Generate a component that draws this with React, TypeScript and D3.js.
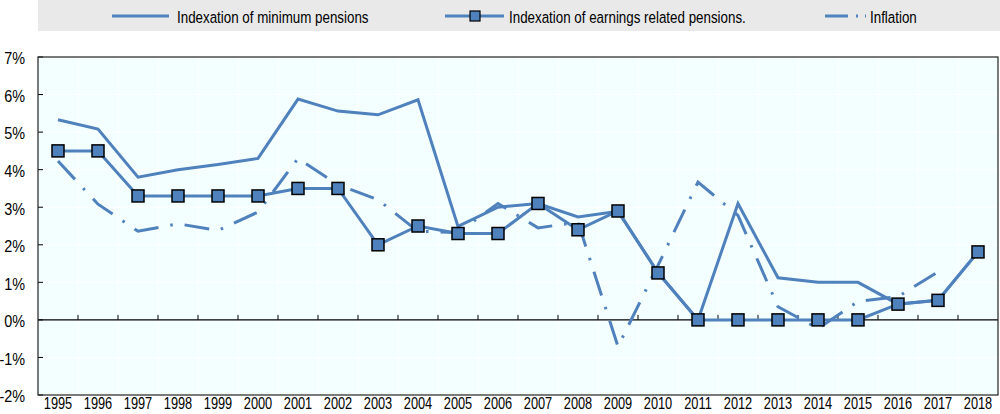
import React from "react";
import * as d3 from "d3";

const years = [1995,1996,1997,1998,1999,2000,2001,2002,2003,2004,2005,2006,2007,2008,2009,2010,2011,2012,2013,2014,2015,2016,2017,2018];
const minimumPensions = [5.33,5.08,3.8,4.0,4.14,4.3,5.88,5.56,5.46,5.86,2.49,3.0,3.1,2.74,2.89,1.26,0,3.1,1.12,1.0,1.0,0.42,0.52,1.81];
const earningsPensions = [4.5,4.5,3.3,3.3,3.3,3.3,3.5,3.5,2.0,2.5,2.3,2.3,3.1,2.4,2.9,1.25,0,0,0,0,0,0.42,0.52,1.81];
const inflation: (number|null)[] = [4.23,3.08,2.36,2.56,2.38,2.87,4.3,3.6,3.2,2.36,2.33,3.1,2.45,2.6,-0.71,1.45,3.67,2.78,0.35,-0.23,0.49,0.62,1.28,null];
const yTicks = [-2,-1,0,1,2,3,4,5,6,7];

const W = 1000, H = 414;
const L = 38, R = 998, T = 57, B = 395;
const BLUE = "#4F81BD";
const FONT = "'Liberation Sans', Arial, sans-serif";

function NText({ x, y, anchor = "start", size = 15, sx = 0.82, children }: { x: number; y: number; anchor?: string; size?: number; sx?: number; children: React.ReactNode }) {
  return (
    <text transform={`translate(${x},${y}) scale(${sx},1)`} textAnchor={anchor as any} dominantBaseline="central" fontFamily={FONT} fontSize={size} fill="#000">
      {children}
    </text>
  );
}

export default function App() {
  const x = d3.scaleBand<number>().domain(years).range([L, R]);
  const cx = (yr: number) => (x(yr) as number) + x.bandwidth() / 2;
  const y = d3.scaleLinear().domain([-2, 7]).range([B, T]);

  const lineMin = d3.line<number>().x((d, i) => cx(years[i])).y(d => y(d));
  const lineInf = d3.line<number|null>().defined(d => d !== null).x((d, i) => cx(years[i])).y(d => y(d as number));

  return (
    <svg width={W} height={H} style={{ position: "absolute", left: 0, top: 0 }}>
      <rect x={0} y={0} width={W} height={H} fill="#fff" />
      {/* legend */}
      <rect x={38} y={0} width={962} height={31} fill="#e9e9e9" />
      <line x1={112} x2={169} y1={16} y2={16} stroke={BLUE} strokeWidth={3} />
      <NText x={177} y={17} size={16.5} sx={0.81}>Indexation of minimum pensions</NText>
      <line x1={445} x2={504} y1={16} y2={16} stroke={BLUE} strokeWidth={3} />
      <rect x={470} y={11} width={10} height={10} fill={BLUE} stroke="#000" strokeWidth={1.2} />
      <NText x={509} y={17} size={16.5} sx={0.81}>Indexation of earnings related pensions.</NText>
      <line x1={825} x2={866} y1={16} y2={16} stroke={BLUE} strokeWidth={3} strokeDasharray="23,8,2,7,2,100" />
      <NText x={870} y={17} size={16.5} sx={0.81}>Inflation</NText>
      {/* plot bg */}
      <rect x={L} y={T} width={R - L} height={B - T} fill="#f3feff" />
      {yTicks.map(t => (
        <line key={"gy" + t} x1={L} x2={R} y1={y(t)} y2={y(t)} stroke="#fff" strokeWidth={1} />
      ))}
      {years.slice(1).map(yr => (
        <line key={"gx" + yr} x1={x(yr)} x2={x(yr)} y1={T} y2={B} stroke="#fff" strokeWidth={1} />
      ))}
      {/* zero line & ticks */}
      <line x1={L} x2={R} y1={y(0)} y2={y(0)} stroke="#000" strokeWidth={1.2} />
      {years.slice(1).map(yr => (
        <line key={"tx" + yr} x1={x(yr)} x2={x(yr)} y1={y(0)} y2={y(0) - 5} stroke="#000" strokeWidth={1} />
      ))}
      {yTicks.map(t => (
        <line key={"ty" + t} x1={L} x2={L + 5} y1={y(t)} y2={y(t)} stroke="#000" strokeWidth={1} />
      ))}
      <rect x={L} y={T} width={R - L} height={B - T} fill="none" stroke="#222" strokeWidth={1.2} />
      {/* series */}
      <path d={lineInf(inflation) || ""} fill="none" stroke={BLUE} strokeWidth={3} strokeDasharray="25,12,2.5,12" />
      <path d={lineMin(minimumPensions) || ""} fill="none" stroke={BLUE} strokeWidth={3} />
      <path d={lineMin(earningsPensions) || ""} fill="none" stroke={BLUE} strokeWidth={3} />
      {earningsPensions.map((v, i) => (
        <rect key={"m" + i} x={cx(years[i]) - 6} y={y(v) - 6} width={12} height={12} fill={BLUE} stroke="#000" strokeWidth={1.5} />
      ))}
      {/* labels */}
      {yTicks.map(t => (
        <NText key={"ly" + t} x={25} y={y(t) + 1.5} anchor="end" size={16} sx={0.9}>{t + "%"}</NText>
      ))}
      {years.map(yr => (
        <NText key={"lx" + yr} x={cx(yr)} y={403} anchor="middle" size={16} sx={0.8}>{yr}</NText>
      ))}
    </svg>
  );
}
